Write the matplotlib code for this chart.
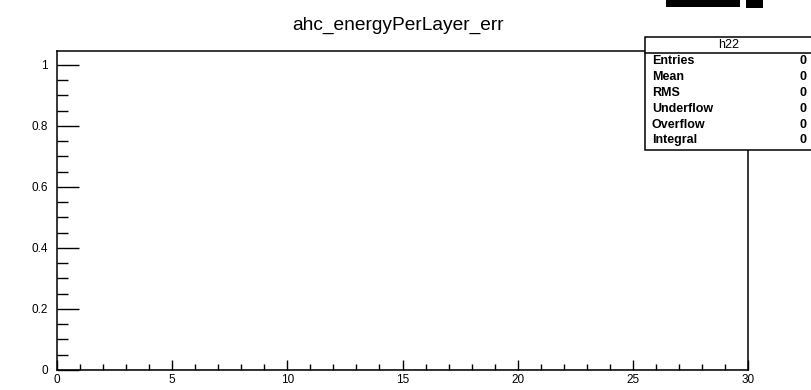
import matplotlib
matplotlib.use("Agg")
import matplotlib.pyplot as plt
from matplotlib.ticker import MultipleLocator
from matplotlib.patches import Rectangle

# ---- data ----
title = "ahc_energyPerLayer_err"
hist_name = "h22"
bin_edges = [0, 1, 2, 3, 4, 5, 6, 7, 8, 9, 10, 11, 12, 13, 14, 15, 16, 17, 18, 19, 20,
             21, 22, 23, 24, 25, 26, 27, 28, 29, 30]
bin_contents = [0, 0, 0, 0, 0, 0, 0, 0, 0, 0, 0, 0, 0, 0, 0,
                0, 0, 0, 0, 0, 0, 0, 0, 0, 0, 0, 0, 0, 0, 0]
stat_names = ["Entries", "Mean", "RMS", "Underflow", "Overflow", "Integral"]
stat_values = ["0", "0", "0", "0", "0", "0"]
x_range = (0, 30)
y_range = (0, 1.045)

W, H = 811, 390
fig = plt.figure(figsize=(W / 100, H / 100), dpi=100)
plt.rcParams['font.family'] = ['Liberation Sans', 'DejaVu Sans']

def px(x0, y0, x1, y1):
    return [x0 / W, 1 - y1 / H, (x1 - x0) / W, (y1 - y0) / H]

ax = fig.add_axes(px(57, 51, 748, 370))
ax.set_xlim(*x_range)
ax.set_ylim(*y_range)
ax.stairs(bin_contents, bin_edges, color="black", linewidth=1.0)

for s in ax.spines.values():
    s.set_linewidth(1.1)
ax.xaxis.set_major_locator(MultipleLocator(5))
ax.xaxis.set_minor_locator(MultipleLocator(1))
ax.yaxis.set_major_locator(MultipleLocator(0.2))
ax.yaxis.set_minor_locator(MultipleLocator(0.05))
ax.tick_params(axis="x", which="major", direction="in", length=7, width=1.0,
               labelsize=8.5, pad=3, top=False)
ax.tick_params(axis="x", which="minor", direction="in", length=4, width=1.0, top=False)
ax.tick_params(axis="y", which="major", direction="in", length=15.5, width=1.0,
               labelsize=8.5, pad=6.5, right=False)
ax.tick_params(axis="y", which="minor", direction="in", length=8, width=1.0, right=False)
ax.xaxis.set_major_formatter(plt.FuncFormatter(lambda v, p: f"{v:g}"))
ax.yaxis.set_major_formatter(plt.FuncFormatter(lambda v, p: f"{v:g}"))

fig.text(398 / W, 1 - 30 / H, title, ha="center", va="baseline", fontsize=13.8)

# stats box
bx0, by0, bx1, by1, byt = 645, 37, 812, 150, 53
box = Rectangle((bx0 / W, 1 - by1 / H), (bx1 - bx0) / W, (by1 - by0) / H,
                transform=fig.transFigure, facecolor="white", edgecolor="black",
                linewidth=1.1, zorder=5)
fig.add_artist(box)
fig.add_artist(plt.Line2D([bx0 / W, bx1 / W], [1 - byt / H, 1 - byt / H],
                          transform=fig.transFigure, color="black", linewidth=1.1, zorder=6))
fig.text(728.5 / W, 1 - 45.5 / H, hist_name, ha="center", va="center",
         fontsize=9, zorder=7)
row_y = [61, 77, 93, 109, 125, 140]
for name, val, yy in zip(stat_names, stat_values, row_y):
    fig.text(652 / W, 1 - yy / H, name, ha="left", va="center", fontsize=9,
             fontweight="bold", zorder=7)
    fig.text(807 / W, 1 - yy / H, val, ha="right", va="center", fontsize=9,
             fontweight="bold", zorder=7)

# blacked-out blocks at top
fig.add_artist(Rectangle((666 / W, 1 - 7 / H), 74 / W, 7 / H, transform=fig.transFigure,
                         facecolor="black", edgecolor="none"))
fig.add_artist(Rectangle((746 / W, 1 - 8 / H), 17 / W, 8 / H, transform=fig.transFigure,
                         facecolor="black", edgecolor="none"))

fig.savefig("out.png", dpi=100)
